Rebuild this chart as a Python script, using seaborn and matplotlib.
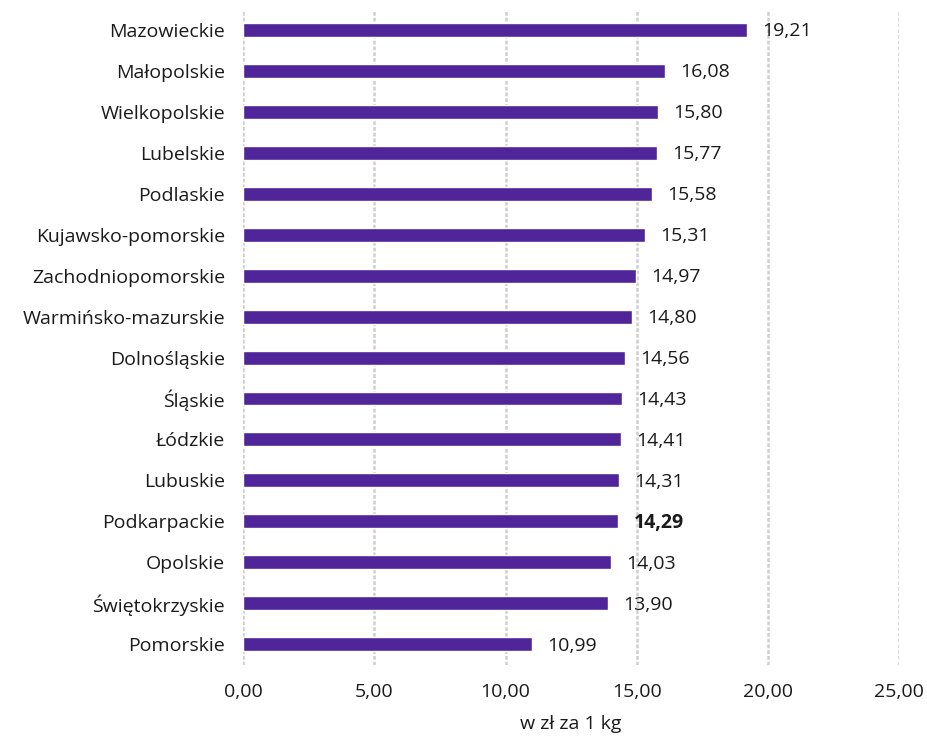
import pandas as pd
import matplotlib.pyplot as plt
import seaborn as sns

sns.set_style("white")
plt.rcParams["font.family"] = ["Open Sans", "DejaVu Sans"]

# Data: average price in PLN per 1 kg by voivodeship
regions = [
    "Mazowieckie", "Małopolskie", "Wielkopolskie", "Lubelskie", "Podlaskie",
    "Kujawsko-pomorskie", "Zachodniopomorskie", "Warmińsko-mazurskie",
    "Dolnośląskie", "Śląskie", "Łódzkie", "Lubuskie", "Podkarpackie",
    "Opolskie", "Świętokrzyskie", "Pomorskie",
]
prices = [19.21, 16.08, 15.80, 15.77, 15.58, 15.31, 14.97, 14.80,
          14.56, 14.43, 14.41, 14.31, 14.29, 14.03, 13.90, 10.99]
highlight = "Podkarpackie"
x_ticks = [0, 5, 10, 15, 20, 25]

data = pd.DataFrame({"region": regions, "price": prices})

fig = plt.figure(figsize=(9.28, 7.36), dpi=100)
ax = fig.add_axes([0.262, 0.097, 0.707, 0.89])

sns.barplot(data=data, x="price", y="region", color="#51259A",
            width=0.34, saturation=1, ax=ax)

# value labels with comma decimal separator
for i, (reg, val) in enumerate(zip(regions, prices)):
    ax.annotate(f"{val:.2f}".replace(".", ","), xy=(val, i),
                xytext=(11, -1), textcoords="offset points",
                va="center", ha="left", fontsize=14, color="#1a1a1a",
                fontweight="bold" if reg == highlight else "normal")

ax.set_xlim(0, 25)
ax.set_xticks(x_ticks)
ax.set_xticklabels([f"{t:.2f}".replace(".", ",") for t in x_ticks])
ax.xaxis.grid(True, color="#cfcfcf", linestyle=(0, (1.5, 0.8)), linewidth=1.8)
ax.set_axisbelow(True)
ax.set_ylabel("")
ax.set_xlabel("w zł za 1 kg", fontsize=14, color="#1a1a1a", labelpad=10)
ax.tick_params(axis="both", labelsize=14, colors="#1a1a1a", length=0)
ax.tick_params(axis="y", pad=13)
ax.tick_params(axis="x", pad=13)
for s in ax.spines.values():
    s.set_visible(False)

plt.savefig("out.png", dpi=100)
